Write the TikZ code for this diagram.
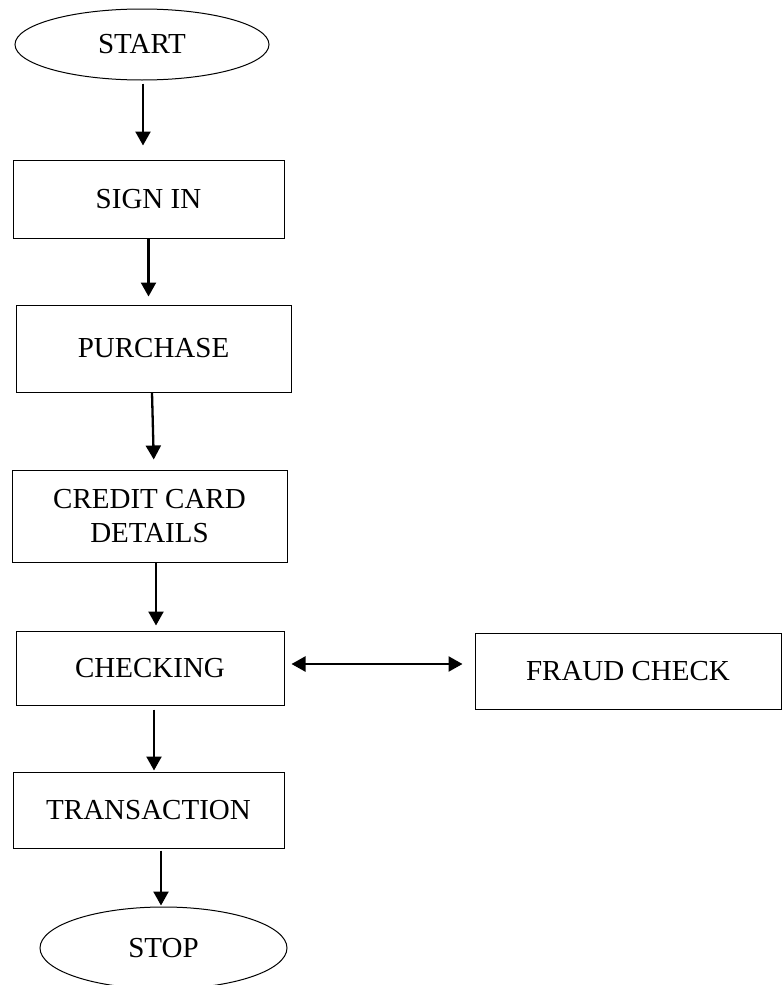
\documentclass[tikz,border=0pt]{standalone}
\usepackage{fontspec}
\setmainfont{Liberation Serif}
\usetikzlibrary{shapes.geometric,arrows.meta}

\begin{document}
\begin{tikzpicture}[x=1pt, y=-1pt, >={Triangle[length=14pt,width=15pt]},
  box/.style={draw, line width=1pt, rectangle, inner sep=0pt, align=center, font=\fontsize{29}{34}\selectfont},
  term/.style={draw, line width=1pt, ellipse, inner sep=0pt, font=\fontsize{29}{34}\selectfont},
  flow/.style={->, line width=2.3pt}]
\useasboundingbox (0,0) rectangle (782,985);
% Blocos
\node[term, minimum width=254pt, minimum height=71pt] (start) at (142,44.5) {START};
\node[box, minimum width=271pt, minimum height=78pt] (signin) at (148.5,199) {SIGN IN};
\node[box, minimum width=275pt, minimum height=87pt] (purchase) at (153.5,348.5) {PURCHASE};
\node[box, minimum width=275pt, minimum height=92pt] (card) at (149.5,516) {CREDIT CARD\\DETAILS};
\node[box, minimum width=268pt, minimum height=74pt] (checking) at (150,668) {CHECKING};
\node[box, minimum width=306pt, minimum height=76pt] (fraud) at (628,671) {FRAUD CHECK};
\node[box, minimum width=271pt, minimum height=76pt] (trans) at (148.5,810) {TRANSACTION};
\node[term, minimum width=247pt, minimum height=82pt] (stop) at (163.5,948) {STOP};

% Setas
\draw[flow, shorten <=3pt, shorten >=14pt] ([xshift=1pt]start.south) -- ([xshift=-5.5pt]signin.north);
\draw[flow, shorten >=8pt] (signin.south) -- (purchase.north -| signin.south);
\draw[flow, shorten >=10pt] ([xshift=-1.5pt]purchase.south) -- ([xshift=4.5pt]card.north);
\draw[flow, shorten >=5pt] ([xshift=6.5pt]card.south) -- ([xshift=6pt]checking.north);
\draw[flow, shorten <=4pt, shorten >=1pt] ([xshift=4pt]checking.south) -- ([xshift=5.5pt]trans.north);
\draw[flow, shorten <=2pt, shorten >=1pt] ([xshift=12.5pt]trans.south) -- ([xshift=-2.5pt]stop.north);
\draw[flow, <->, shorten <=7pt, shorten >=12pt] ([yshift=4pt]checking.east) -- ([yshift=7pt]fraud.west);
\end{tikzpicture}
\end{document}
